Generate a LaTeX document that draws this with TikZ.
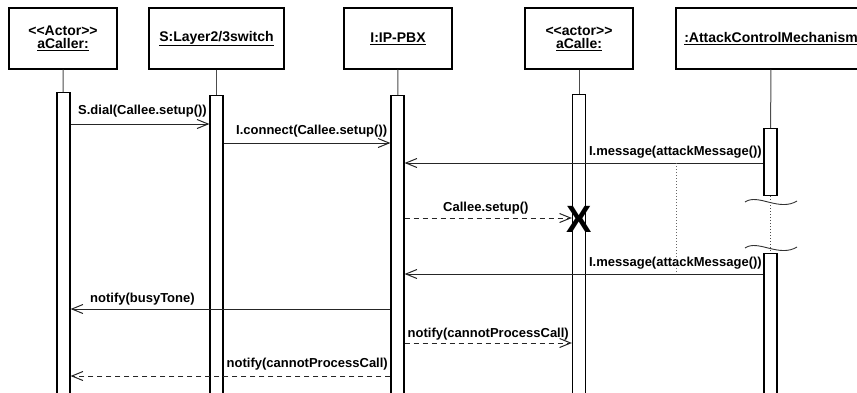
\documentclass[tikz,border=0pt]{standalone}
\usepackage{fontspec}
\setmainfont{Liberation Sans}
\usetikzlibrary{arrows.meta}

\begin{document}
\begin{tikzpicture}[x=1pt, y=-1pt, font=\bfseries\fontsize{13}{14}\selectfont,
  obj/.style={draw, line width=1.2pt, minimum width=108pt, minimum height=61pt, align=center, inner sep=0pt, font=\bfseries\fontsize{14}{13}\selectfont},
  act/.style={draw, line width=1.2pt, fill=white, minimum width=13pt, inner sep=0pt, anchor=north},
  life/.style={draw=black!70, line width=1pt},
  msg/.style={-{Straight Barb[length=11pt, width=9pt]}, line width=1pt, draw=black!85},
  ret/.style={msg, dash pattern=on 5pt off 4pt},
  lbl/.style={inner sep=0pt},
  brk/.style={draw=black!80, line width=0.9pt}]
\useasboundingbox (0,0) rectangle (857,392);
\clip (0,0) rectangle (857,392);
\node[obj] (caller) at (63,38.5) {<{}<Actor>{}>\\\underline{aCaller:}};
\node[obj, minimum width=135pt] (switch) at (216.5,38.5) {\underline{S:Layer2/3switch}};
\node[obj] (pbx) at (398,38.5) {\underline{I:IP-PBX}};
\node[obj] (callee) at (579,38.5) {<{}<actor>{}>\\\underline{aCalle:}};
\node[obj, minimum width=190pt] (acm) at (771,38.5) {\underline{:AttackControlMechanism}};
\node[act, minimum height=310pt] (act1) at (63.5,92) {};
\node[act, minimum height=310pt] (act2) at (216.5,95) {};
\node[act, minimum height=310pt] (act3) at (397.5,95) {};
\node[act, minimum height=310pt] (act4) at (579,94) {};
\node[act, minimum height=67pt] (act5a) at (770.5,128) {};
\node[act, minimum height=150pt] (act5b) at (770.5,253) {};
\draw[life] (caller) -- (act1); \draw[life] (switch) -- (act2); \draw[life] (pbx) -- (act3);
\draw[life] (callee) -- (act4); \draw[life] (acm) -- (act5a);
\draw[life, dash pattern=on 1pt off 2pt] (act5a) -- (act5b);
\coordinate (m1) at (0,124); \coordinate (m2) at (0,143); \coordinate (m3) at (0,163);
\coordinate (m4) at (0,218); \coordinate (m5) at (0,274); \coordinate (m6) at (0,309);
\coordinate (m7) at (0,343); \coordinate (m8) at (0,376);
\draw[msg] (act1.east |- m1) -- (act2.west |- m1);
\draw[msg] (act2.east |- m2) -- (act3.west |- m2);
\draw[msg] (act5a.west |- m3) -- (act3.east |- m3);
\draw[ret] (act3.east |- m4) -- (act4.west |- m4);
\draw[msg] (act5b.west |- m5) -- (act3.east |- m5);
\draw[msg] (act3.west |- m6) -- (act1.east |- m6);
\draw[ret] (act3.east |- m7) -- (act4.west |- m7);
\draw[ret] (act3.west |- m8) -- (act1.east |- m8);
\node[lbl, anchor=base west] (l1) at (78,114) {S.dial(Callee.setup())};
\node[lbl, anchor=base west] (l2) at (236,134) {I.connect(Callee.setup())};
\node[lbl, anchor=base east] (l3) at (762,155) {I.message(attackMessage())};
\node[lbl, anchor=base west] (l4) at (443,211) {Callee.setup()};
\node[lbl, anchor=base east] (l5) at (762,266) {I.message(attackMessage())};
\node[lbl, anchor=base west] (l6) at (90,302) {notify(busyTone)};
\node[lbl, anchor=base east] (l7) at (569,337) {notify(cannotProcessCall)};
\node[lbl, anchor=base east] (l8) at (388,367) {notify(cannotProcessCall)};
\node[inner sep=0pt, font=\bfseries\fontsize{38}{38}\selectfont] (kill) at (579,219.5) {X};
\coordinate (d1) at (676,0);
\draw[draw=black!60, line width=0.9pt, dash pattern=on 1pt off 2pt] (d1 |- m3) -- (d1 |- m5);
\coordinate (w1) at (745,202); \coordinate (w2) at (797,201);
\coordinate (w3) at (745,248); \coordinate (w4) at (797,247);
\draw[brk] (w1) .. controls (758,193) and (779,212) .. (w2);
\draw[brk] (w3) .. controls (758,239) and (779,258) .. (w4);
\end{tikzpicture}
\end{document}
